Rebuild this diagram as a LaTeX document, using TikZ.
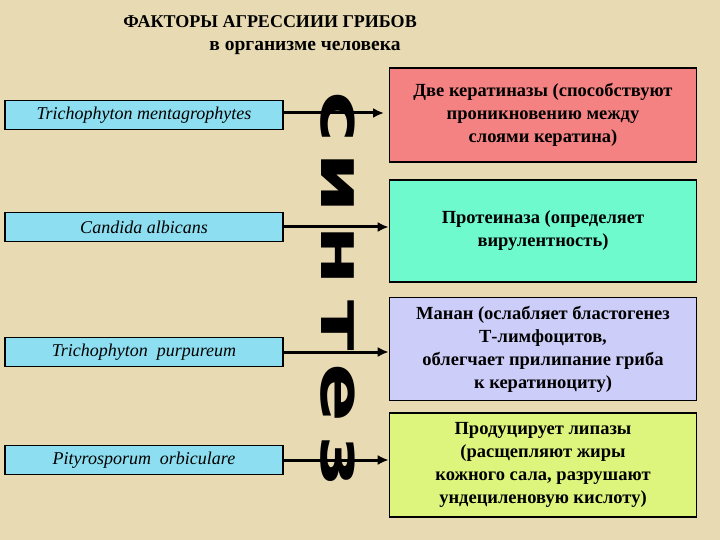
\documentclass[tikz,border=0pt]{standalone}
\usepackage{fontspec}
\setmainfont{Liberation Serif}
\newfontfamily\synfont{DejaVu Sans}
\usepackage{graphicx}
\usetikzlibrary{arrows.meta}
\begin{document}
\begin{tikzpicture}[x=1pt,y=-1pt,
  lbox/.style={draw=black,line width=1.6pt,fill=leftc,minimum width=278pt,minimum height=29pt,font=\fontsize{18}{19}\selectfont\itshape,inner sep=0pt},
  rbox/.style={draw=black,line width=1.6pt,minimum width=307pt,inner sep=0pt,align=center,font=\fontsize{18.5}{23}\selectfont\bfseries},
  arr/.style={line width=3pt,-{Latex[length=11pt,width=10pt]}},
  syn/.style={rotate=-90,font=\synfont\bfseries\fontsize{60}{60}\selectfont,inner sep=0pt}]
\definecolor{bg}{RGB}{232,218,178}
\definecolor{leftc}{RGB}{140,222,240}
\definecolor{c1}{RGB}{245,130,130}
\definecolor{c2}{RGB}{110,250,205}
\definecolor{c3}{RGB}{205,205,250}
\definecolor{c4}{RGB}{222,245,125}
\fill[bg] (0,0) rectangle (720,540);
\useasboundingbox (0,0) rectangle (720,540);
\node[font=\fontsize{18}{22}\selectfont\bfseries] (t1) at (270,22) {ФАКТОРЫ АГРЕССИИИ ГРИБОВ};
\node[font=\fontsize{19.5}{22}\selectfont\bfseries] (t2) at (305,48) {в организме человека};
\node[syn] (s1) at (338,117) {\scalebox{1.45}[1]{с}};
\node[syn] (s2) at (338,183) {\scalebox{1.45}[1]{и}};
\node[syn] (s3) at (338,256) {\scalebox{1.45}[1]{н}};
\node[syn] (s4) at (338,326) {\scalebox{1.45}[1]{т}};
\node[syn] (s5) at (338,393) {\scalebox{1.45}[1]{е}};
\node[syn] (s6) at (338,462) {\scalebox{1.45}[1]{з}};
\node[lbox] (l1) at (144,115) {Trichophyton mentagrophytes};
\node[lbox] (l2) at (144,227) {Candida albicans};
\node[lbox] (l3) at (144,352) {Trichophyton\ \ purpureum};
\node[lbox] (l4) at (144,460) {Pityrosporum\ \ orbiculare};
\node[rbox,fill=c1,minimum height=94pt] (r1) at (543,115) {Две кератиназы (способствуют\\проникновению между\\слоями кератина)};
\node[rbox,fill=c2,minimum height=102pt] (r2) at (543,231) {Протеиназа (определяет\\вирулентность)};
\node[rbox,fill=c3,minimum height=103pt] (r3) at (543,349) {Манан (ослабляет бластогенез\\Т-лимфоцитов,\\облегчает прилипание гриба\\к кератиноциту)};
\node[rbox,fill=c4,minimum height=104pt] (r4) at (543,465) {Продуцирует липазы\\(расщепляют жиры\\кожного сала, разрушают\\ундециленовую кислоту)};
\coordinate (e1) at (384,113);
\draw[arr] (l1.east|-e1) -- (e1);
\draw[arr] (l2.east) -- (l2.east-|r2.west);
\draw[arr] (l3.east) -- (l3.east-|r3.west);
\draw[arr] (l4.east) -- (l4.east-|r4.west);
\end{tikzpicture}
\end{document}
